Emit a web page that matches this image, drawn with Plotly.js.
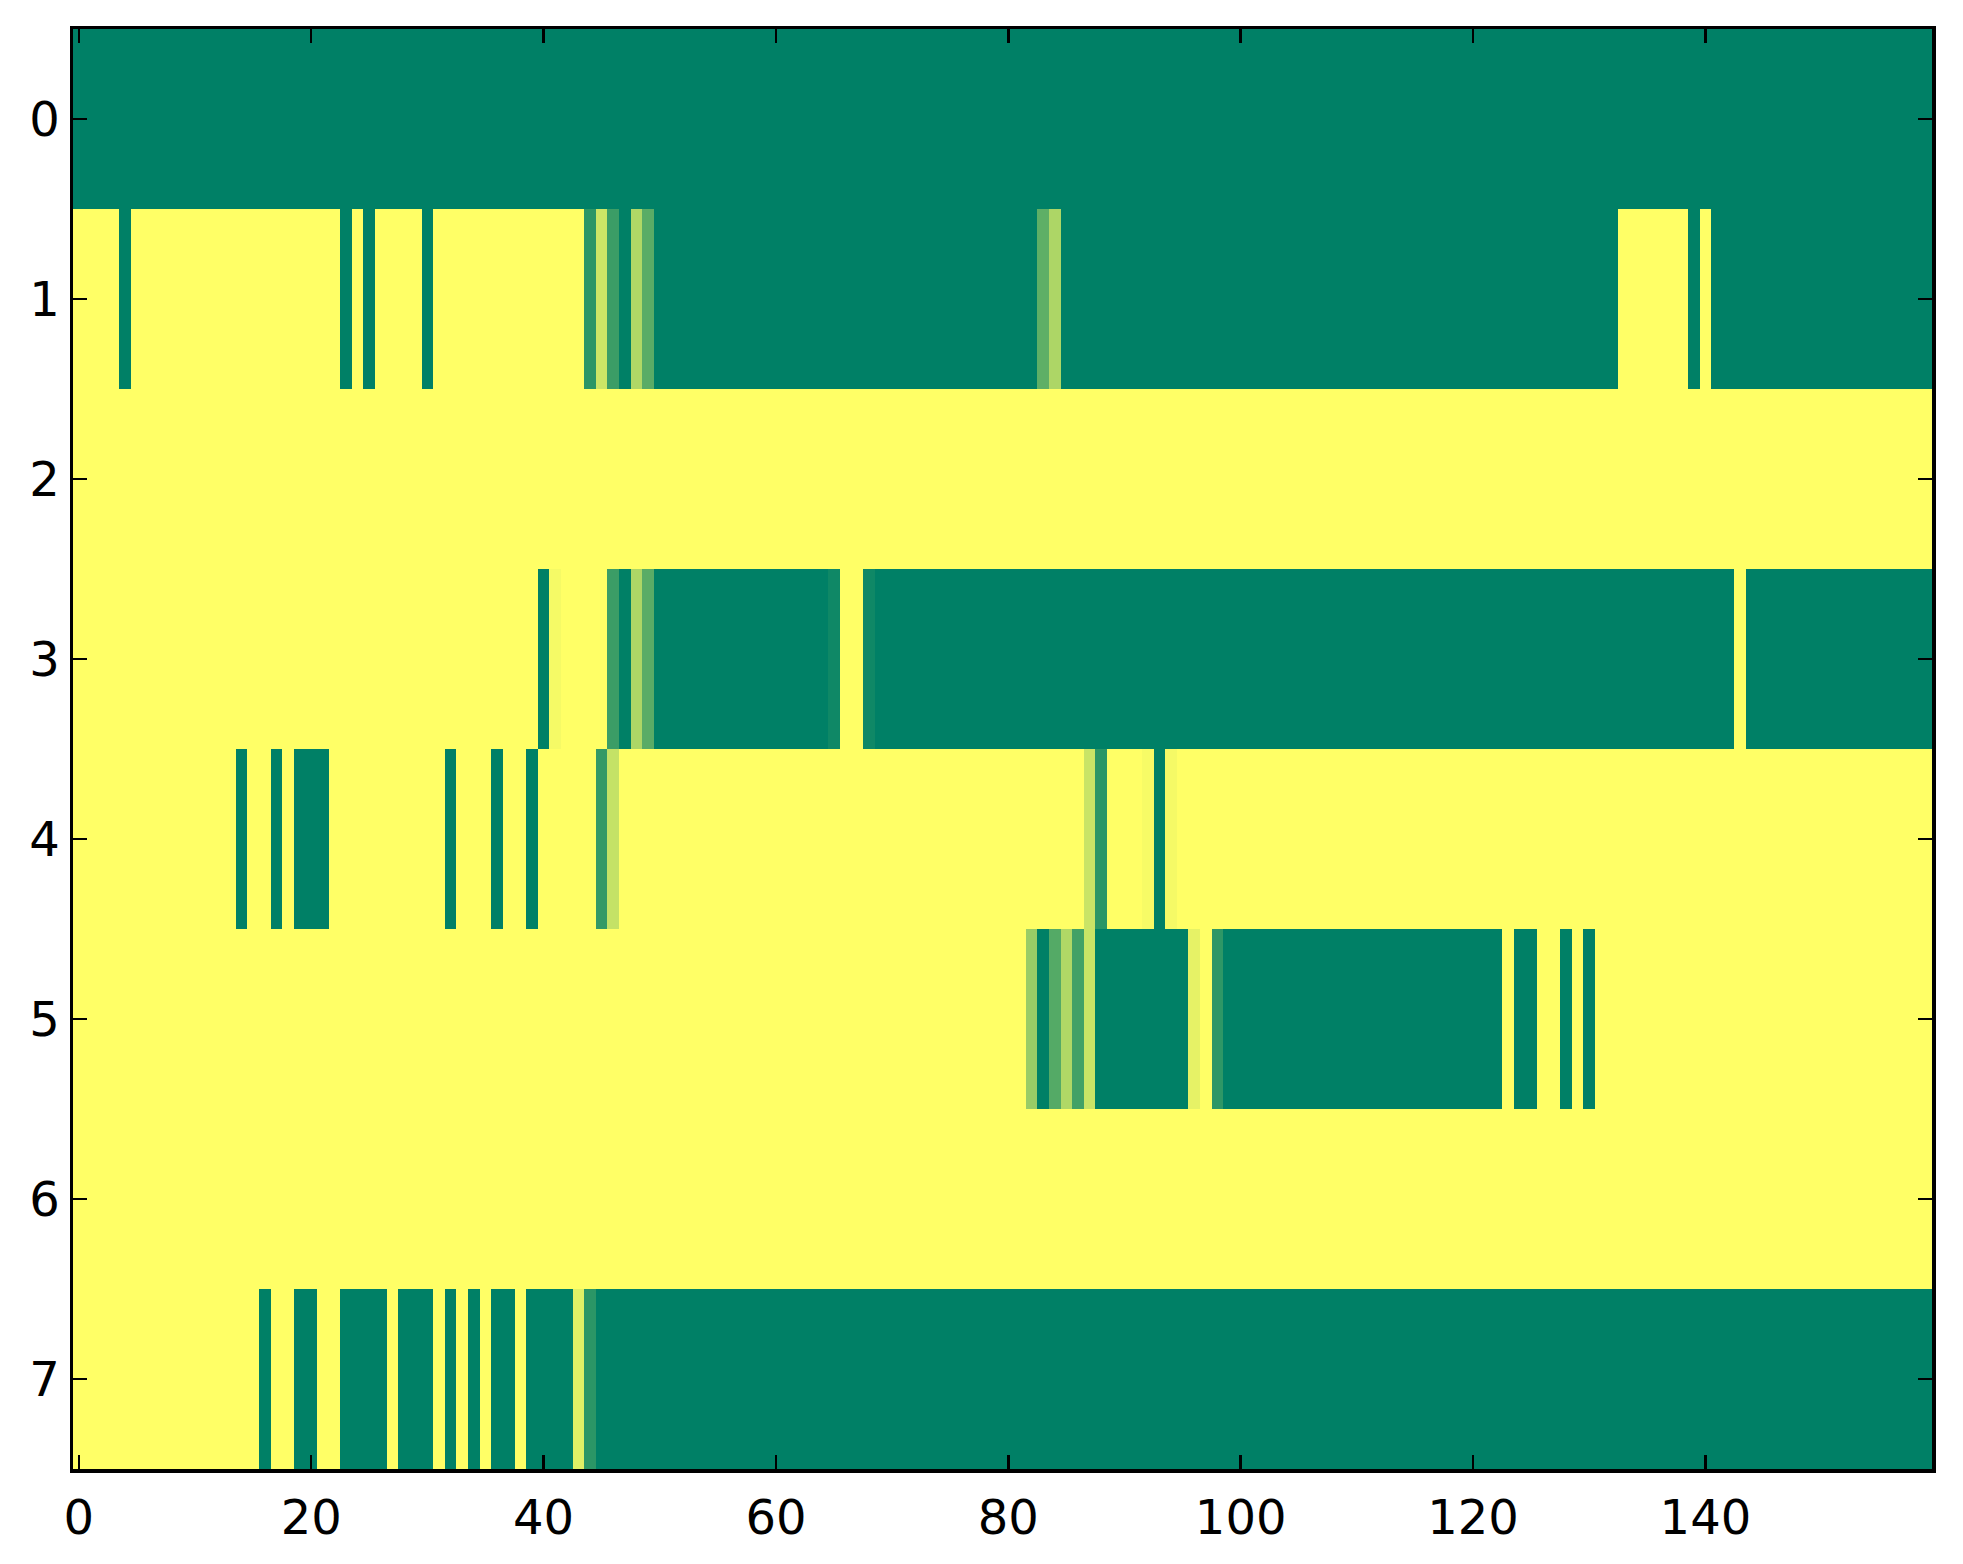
<!DOCTYPE html>
<html>
<head>
<meta charset="utf-8">
<script src="https://cdn.plot.ly/plotly-3.0.1.min.js"></script>
<style>html,body{margin:0;padding:0;background:#fff;}#chart{width:1963px;height:1564px;}</style>
</head>
<body>
<div id="chart"></div>
<script>
// Each row: 160 cell values (0 = green end, 1 = yellow end of the "summer" colormap)
const row0 = [
0,0,0,0,0,0,0,0,0,0,0,0,0,0,0,0,0,0,0,0,
0,0,0,0,0,0,0,0,0,0,0,0,0,0,0,0,0,0,0,0,
0,0,0,0,0,0,0,0,0,0,0,0,0,0,0,0,0,0,0,0,
0,0,0,0,0,0,0,0,0,0,0,0,0,0,0,0,0,0,0,0,
0,0,0,0,0,0,0,0,0,0,0,0,0,0,0,0,0,0,0,0,
0,0,0,0,0,0,0,0,0,0,0,0,0,0,0,0,0,0,0,0,
0,0,0,0,0,0,0,0,0,0,0,0,0,0,0,0,0,0,0,0,
0,0,0,0,0,0,0,0,0,0,0,0,0,0,0,0,0,0,0,0];
const row1 = [
1,1,1,1,0,1,1,1,1,1,1,1,1,1,1,1,1,1,1,1,
1,1,1,0,1,0,1,1,1,1,0,1,1,1,1,1,1,1,1,1,
1,1,1,1,.17,.8,.23,0,.69,.35,0,0,0,0,0,0,0,0,0,0,
0,0,0,0,0,0,0,0,0,0,0,0,0,0,0,0,0,0,0,0,
0,0,0,.37,.68,0,0,0,0,0,0,0,0,0,0,0,0,0,0,0,
0,0,0,0,0,0,0,0,0,0,0,0,0,0,0,0,0,0,0,0,
0,0,0,0,0,0,0,0,0,0,0,0,0,1,1,1,1,1,1,0,
1,0,0,0,0,0,0,0,0,0,0,0,0,0,0,0,0,0,0,0];
const row2 = [
1,1,1,1,1,1,1,1,1,1,1,1,1,1,1,1,1,1,1,1,
1,1,1,1,1,1,1,1,1,1,1,1,1,1,1,1,1,1,1,1,
1,1,1,1,1,1,1,1,1,1,1,1,1,1,1,1,1,1,1,1,
1,1,1,1,1,1,1,1,1,1,1,1,1,1,1,1,1,1,1,1,
1,1,1,1,1,1,1,1,1,1,1,1,1,1,1,1,1,1,1,1,
1,1,1,1,1,1,1,1,1,1,1,1,1,1,1,1,1,1,1,1,
1,1,1,1,1,1,1,1,1,1,1,1,1,1,1,1,1,1,1,1,
1,1,1,1,1,1,1,1,1,1,1,1,1,1,1,1,1,1,1,1];
const row3 = [
1,1,1,1,1,1,1,1,1,1,1,1,1,1,1,1,1,1,1,1,
1,1,1,1,1,1,1,1,1,1,1,1,1,1,1,1,1,1,1,1,
0,.96,1,1,1,1,.23,0,.68,.35,0,0,0,0,0,0,0,0,0,0,
0,0,0,0,0,.06,1,1,.06,0,0,0,0,0,0,0,0,0,0,0,
0,0,0,0,0,0,0,0,0,0,0,0,0,0,0,0,0,0,0,0,
0,0,0,0,0,0,0,0,0,0,0,0,0,0,0,0,0,0,0,0,
0,0,0,0,0,0,0,0,0,0,0,0,0,0,0,0,0,0,0,0,
0,0,0,1,0,0,0,0,0,0,0,0,0,0,0,0,0,0,0,0];
const row4 = [
1,1,1,1,1,1,1,1,1,1,1,1,1,1,0,1,1,0,1,0,
0,0,1,1,1,1,1,1,1,1,1,1,0,1,1,1,0,1,1,0,
1,1,1,1,1,.2,.77,1,1,1,1,1,1,1,1,1,1,1,1,1,
1,1,1,1,1,1,1,1,1,1,1,1,1,1,1,1,1,1,1,1,
1,1,1,1,1,1,1,.79,.17,1,1,1,.97,0,.96,1,1,1,1,1,
1,1,1,1,1,1,1,1,1,1,1,1,1,1,1,1,1,1,1,1,
1,1,1,1,1,1,1,1,1,1,1,1,1,1,1,1,1,1,1,1,
1,1,1,1,1,1,1,1,1,1,1,1,1,1,1,1,1,1,1,1];
const row5 = [
1,1,1,1,1,1,1,1,1,1,1,1,1,1,1,1,1,1,1,1,
1,1,1,1,1,1,1,1,1,1,1,1,1,1,1,1,1,1,1,1,
1,1,1,1,1,1,1,1,1,1,1,1,1,1,1,1,1,1,1,1,
1,1,1,1,1,1,1,1,1,1,1,1,1,1,1,1,1,1,1,1,
1,1,.6,0,.33,.69,.26,.79,0,0,0,0,0,0,0,0,.9,1,.18,0,
0,0,0,0,0,0,0,0,0,0,0,0,0,0,0,0,0,0,0,0,
0,0,0,1,0,0,1,1,0,1,0,1,1,1,1,1,1,1,1,1,
1,1,1,1,1,1,1,1,1,1,1,1,1,1,1,1,1,1,1,1];
const row6 = [
1,1,1,1,1,1,1,1,1,1,1,1,1,1,1,1,1,1,1,1,
1,1,1,1,1,1,1,1,1,1,1,1,1,1,1,1,1,1,1,1,
1,1,1,1,1,1,1,1,1,1,1,1,1,1,1,1,1,1,1,1,
1,1,1,1,1,1,1,1,1,1,1,1,1,1,1,1,1,1,1,1,
1,1,1,1,1,1,1,1,1,1,1,1,1,1,1,1,1,1,1,1,
1,1,1,1,1,1,1,1,1,1,1,1,1,1,1,1,1,1,1,1,
1,1,1,1,1,1,1,1,1,1,1,1,1,1,1,1,1,1,1,1,
1,1,1,1,1,1,1,1,1,1,1,1,1,1,1,1,1,1,1,1];
const row7 = [
1,1,1,1,1,1,1,1,1,1,1,1,1,1,1,1,0,1,1,0,
0,1,1,0,0,0,0,1,0,0,0,1,0,1,0,1,0,0,1,0,
0,0,0,.88,.17,0,0,0,0,0,0,0,0,0,0,0,0,0,0,0,
0,0,0,0,0,0,0,0,0,0,0,0,0,0,0,0,0,0,0,0,
0,0,0,0,0,0,0,0,0,0,0,0,0,0,0,0,0,0,0,0,
0,0,0,0,0,0,0,0,0,0,0,0,0,0,0,0,0,0,0,0,
0,0,0,0,0,0,0,0,0,0,0,0,0,0,0,0,0,0,0,0,
0,0,0,0,0,0,0,0,0,0,0,0,0,0,0,0,0,0,0,0];

const xTickVals = [0, 20, 40, 60, 80, 100, 120, 140];
const yTickVals = [0, 1, 2, 3, 4, 5, 6, 7];

const summer = [[0, 'rgb(0,128,102)'], [1, 'rgb(255,255,102)']];

const trace = {
  type: 'heatmap',
  z: [row0, row1, row2, row3, row4, row5, row6, row7],
  colorscale: summer,
  zmin: 0,
  zmax: 1,
  showscale: false,
  zsmooth: false,
  hoverinfo: 'none'
};

const axisCommon = {
  showline: true,
  linecolor: '#000',
  linewidth: 3.5,
  mirror: 'ticks',
  ticks: 'inside',
  ticklen: 14,
  tickwidth: 2.5,
  tickcolor: '#000',
  showgrid: false,
  zeroline: false,
  tickfont: {family: 'DejaVu Sans', size: 48, color: '#000'}
};

const layout = {
  width: 1963,
  height: 1564,
  margin: {l: 73, r: 31, t: 29, b: 95, pad: 0},
  paper_bgcolor: '#fff',
  plot_bgcolor: '#fff',
  showlegend: false,
  xaxis: Object.assign({}, axisCommon, {
    range: [-0.5, 159.5],
    tickmode: 'array',
    tickvals: xTickVals,
    ticktext: xTickVals.map(String),
    ticklabelstandoff: 4
  }),
  yaxis: Object.assign({}, axisCommon, {
    range: [7.5, -0.5],
    tickmode: 'array',
    tickvals: yTickVals,
    ticktext: yTickVals.map(String),
    ticklabelstandoff: 0
  })
};

Plotly.newPlot('chart', [trace], layout, {staticPlot: true, displayModeBar: false});
</script>
</body>
</html>
